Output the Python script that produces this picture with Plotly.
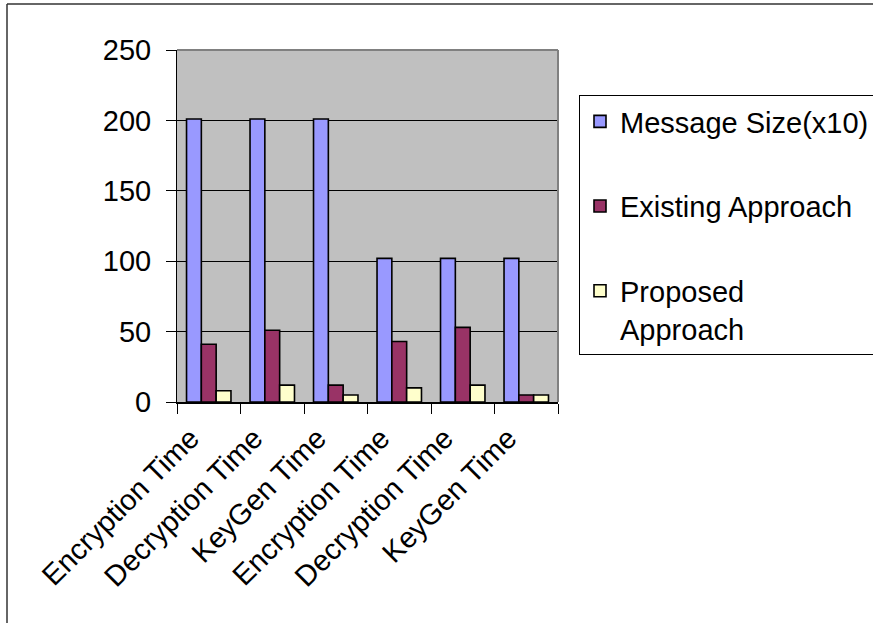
import plotly.graph_objects as go

categories = ["Encryption Time", "Decryption Time", "KeyGen Time",
              "Encryption Time", "Decryption Time", "KeyGen Time"]
message_size = [201, 201, 201, 102, 102, 102]
existing = [41, 51, 12, 43, 53, 5]
proposed = [8, 12, 5, 10, 12, 5]
y_ticks = [0, 50, 100, 150, 200, 250]

series = [
    ("Message Size(x10)", message_size, "#9999FF"),
    ("Existing Approach", existing, "#993366"),
    ("Proposed<br>Approach", proposed, "#FFFFCC"),
]

FONT = "Liberation Sans, Arial, sans-serif"
idx = list(range(len(categories)))

fig = go.Figure()
for i, (name, vals, col) in enumerate(series):
    fig.add_trace(go.Bar(
        x=idx, y=vals, name=name, legendgroup=f"g{i}",
        marker=dict(color=col, line=dict(color="black", width=1.6)),
    ))

# The original chart is cut off at the right edge of the picture:
# the figure is a little wider than the window and the overflow is hidden.
L, T, R, B = 177, 50, 558, 402
W, H = 900, 623
pw, ph = R - L, B - T

fig.update_layout(
    width=W, height=H,
    margin=dict(l=L, r=W - R, t=T, b=H - B, pad=0),
    paper_bgcolor="white", plot_bgcolor="#C0C0C0",
    barmode="group", bargap=0.30, bargroupgap=0,
    font=dict(family=FONT, size=29, color="black"),
    showlegend=True,
    legend=dict(
        x=(579 - L) / pw, y=(B - 95) / ph, xanchor="left", yanchor="top",
        bgcolor="white", bordercolor="black", borderwidth=1,
        font=dict(family=FONT, size=29, color="black"),
        tracegroupgap=44, valign="top",
    ),
    xaxis=dict(
        type="category", tickmode="array", tickvals=idx, ticktext=categories,
        tickson="boundaries", ticks="outside", ticklen=10, tickcolor="black",
        tickwidth=1, tickangle=-45, showline=True, linecolor="black",
        linewidth=1.5, showgrid=False, range=[-0.5, 5.5],
        ticklabelshift=-18, ticklabelstandoff=6,
        tickfont=dict(family=FONT, size=29),
    ),
    yaxis=dict(
        range=[0, 250], tickmode="array", tickvals=y_ticks,
        ticks="outside", ticklen=10, tickcolor="black", tickwidth=1,
        showline=True, linecolor="black", linewidth=1,
        showgrid=True, gridcolor="black", gridwidth=1, zeroline=False,
        ticklabelstandoff=9, tickfont=dict(family=FONT, size=29),
    ),
)

# plot-area top and right border (gray)
fig.add_shape(type="line", xref="paper", yref="paper", x0=0, x1=1, y0=1, y1=1,
              line=dict(color="#808080", width=2), layer="above")
fig.add_shape(type="line", xref="paper", yref="paper", x0=1, x1=1, y0=0, y1=1,
              line=dict(color="#808080", width=2), layer="above")
# outer chart frame: left and top edges (the rest lies outside the picture)
fx0, fy_top, fy_bot, fx1 = (7 - L) / pw, (B - 4) / ph, (B - H - 20) / ph, (W + 20 - L) / pw
fig.add_shape(type="line", xref="paper", yref="paper", x0=fx0, x1=fx0,
              y0=fy_bot, y1=fy_top, line=dict(color="#333333", width=1.5))
fig.add_shape(type="line", xref="paper", yref="paper", x0=fx0, x1=fx1,
              y0=fy_top, y1=fy_top, line=dict(color="#333333", width=1.5))

fig.write_html(
    "out.html",
    post_script="document.documentElement.style.overflow='hidden';"
                "document.body.style.overflow='hidden';"
                "document.body.style.margin='0';",
)
